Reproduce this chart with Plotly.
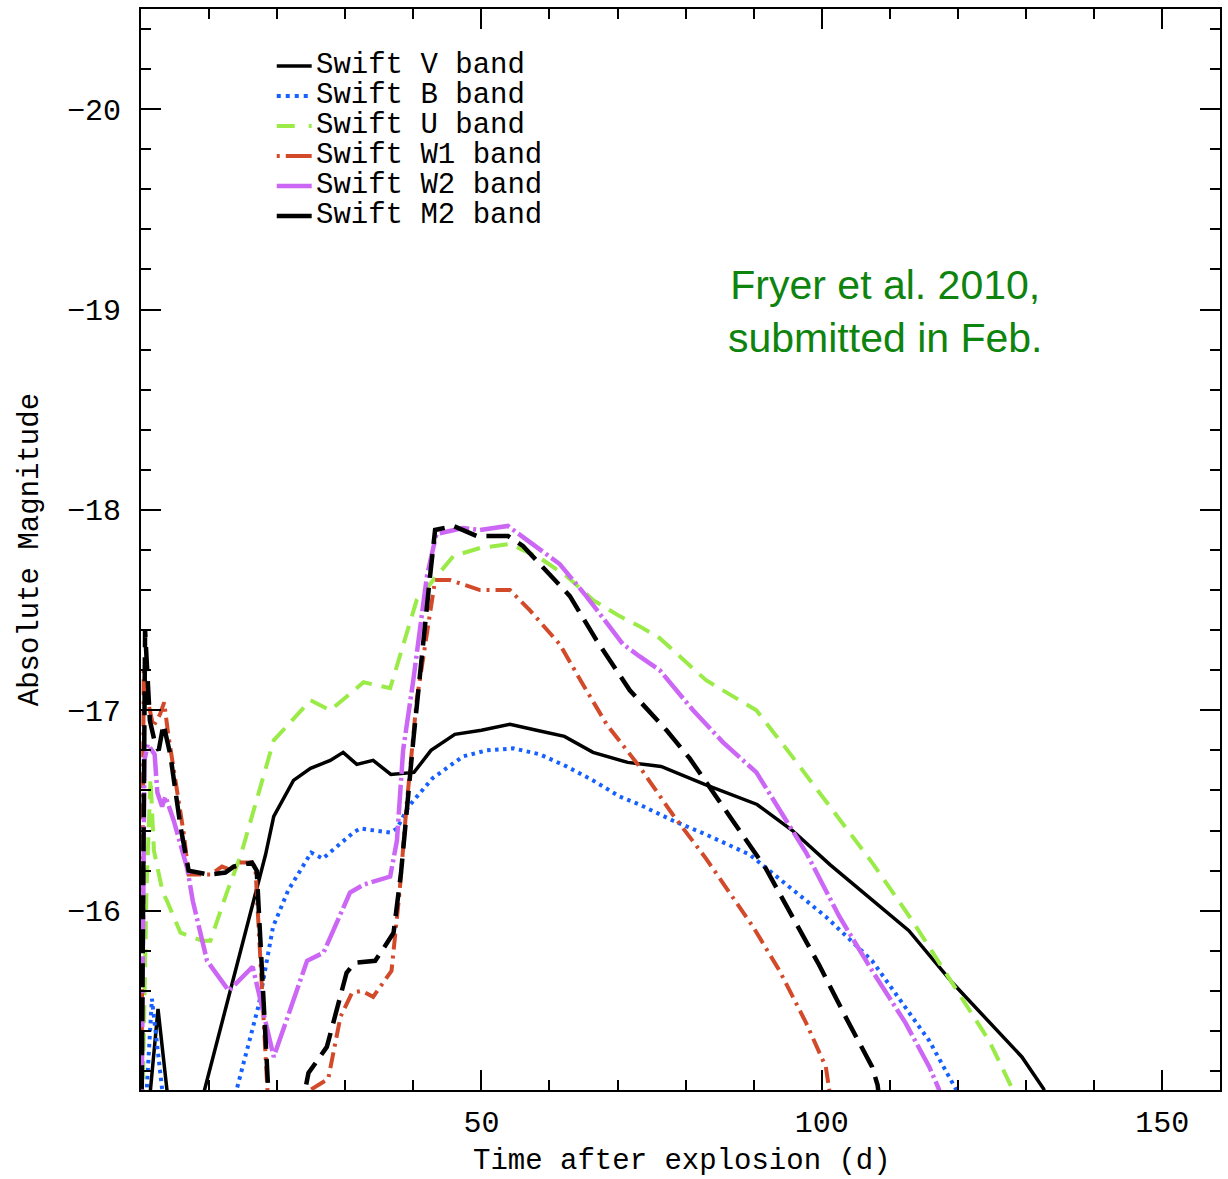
import plotly.graph_objects as go

# Model light curves: time after explosion (days) and absolute magnitude per Swift band
t_v = [0.0, 2.5, 4.8, 7.0, 18.3, 19.5, 22.4, 24.9, 27.8, 29.7, 31.7, 34.1, 36.7, 40.1,
       42.6, 46.1, 50.0, 54.2, 58.1, 62.2, 66.4, 71.5, 76.4, 82.8, 90.5, 95.7, 101.2,
       112.8, 119.2, 129.4, 132.6, 134.0]
mag_v = [-14.6, -15.51, -14.8, -14.8, -16.28, -16.47, -16.65, -16.71, -16.75, -16.79, -16.73,
         -16.75, -16.68, -16.69, -16.80, -16.88, -16.90, -16.93, -16.90, -16.87, -16.79, -16.74,
         -16.72, -16.63, -16.53, -16.40, -16.23, -15.90, -15.64, -15.27, -15.11, -14.9]

t_b = [0.0, 1.6, 3.3, 4.0, 11.7, 17.3, 19.4, 21.6, 25.0, 26.7, 31.2, 32.2, 36.6, 37.6,
       39.3, 42.8, 47.3, 50.8, 54.7, 58.6, 62.5, 66.4, 70.3, 73.2, 78.1, 83.0, 89.4,
       93.8, 100.6, 107.4, 112.3, 115.8, 119.7, 121.0]
mag_b = [-14.6, -15.56, -15.05, -14.8, -14.8, -15.53, -15.92, -16.10, -16.29, -16.26, -16.39,
         -16.41, -16.39, -16.41, -16.52, -16.66, -16.77, -16.80, -16.81, -16.78, -16.72, -16.65,
         -16.57, -16.53, -16.45, -16.38, -16.28, -16.16, -15.97, -15.75, -15.52, -15.35,
         -15.11, -14.95]

t_u = [0.0, 0.8, 1.4, 1.9, 3.2, 3.8, 5.8, 9.0, 10.2, 12.6, 14.6, 15.6, 19.5, 24.9, 27.8,
       32.7, 36.6, 40.5, 42.4, 45.9, 49.8, 54.2, 58.6, 62.5, 66.4, 70.3, 73.2, 76.2, 83.0,
       90.4, 95.2, 100.6, 107.4, 113.3, 119.7, 124.6, 128.0, 129.5]
mag_u = [-14.6, -16.1, -16.66, -16.30, -16.09, -16.05, -15.89, -15.85, -15.85, -16.09, -16.27,
         -16.39, -16.85, -17.05, -17.00, -17.14, -17.11, -17.55, -17.63, -17.77, -17.81, -17.83,
         -17.76, -17.67, -17.55, -17.47, -17.42, -17.36, -17.15, -17.00, -16.79, -16.55, -16.24,
         -15.95, -15.61, -15.35, -15.11, -14.9]

t_w1 = [0.0, 0.4, 1.0, 1.8, 2.8, 3.4, 4.0, 4.8, 6.3, 7.0, 10.2, 11.9, 13.4, 14.2, 16.1,
        16.8, 18.5, 18.9, 24.6, 27.5, 29.3, 31.0, 32.4, 34.1, 36.8, 38.0, 39.0, 40.0, 40.5,
        43.2, 45.4, 49.8, 54.2, 57.1, 61.5, 64.9, 68.4, 73.2, 78.1, 83.0, 89.9, 93.8, 97.7,
        100.6, 102.0]
mag_w1 = [-14.6, -17.2, -17.05, -16.92, -16.98, -17.04, -16.88, -16.70, -16.38, -16.18, -16.18,
          -16.22, -16.20, -16.24, -16.24, -16.22, -15.10, -14.9, -15.10, -15.16, -15.47, -15.59,
          -15.60, -15.57, -15.70, -16.10, -16.52, -16.85, -17.05, -17.65, -17.65, -17.60, -17.60,
          -17.50, -17.33, -17.13, -16.93, -16.72, -16.48, -16.26, -15.92, -15.70, -15.44,
          -15.22, -14.9]

t_w2 = [0.0, 0.5, 1.0, 2.0, 2.4, 3.1, 3.6, 4.8, 6.8, 7.6, 9.7, 12.9, 16.4, 19.5, 24.4,
        26.8, 30.7, 32.7, 36.6, 37.6, 38.5, 40.0, 42.0, 43.4, 47.3, 49.8, 53.9, 56.6, 61.5,
        65.4, 70.8, 73.2, 76.2, 81.1, 85.5, 90.4, 94.3, 97.7, 102.6, 107.4, 112.3, 115.8,
        117.2, 118.5]
mag_w2 = [-14.6, -16.75, -16.83, -16.78, -16.59, -16.52, -16.57, -16.45, -16.21, -16.05, -15.75,
          -15.60, -15.72, -15.27, -15.75, -15.79, -16.09, -16.13, -16.17, -16.35, -16.80, -17.15,
          -17.67, -17.88, -17.91, -17.90, -17.92, -17.85, -17.73, -17.57, -17.33, -17.27, -17.20,
          -17.00, -16.84, -16.69, -16.48, -16.29, -15.97, -15.70, -15.44, -15.22, -15.11, -14.9]

t_m2 = [0.0, 0.6, 1.3, 2.1, 2.6, 3.3, 4.3, 5.8, 7.0, 9.9, 12.4, 13.6, 16.3, 17.0, 18.7,
        19.0, 23.5, 24.6, 27.3, 28.8, 30.2, 31.4, 34.4, 35.6, 37.1, 38.2, 39.3, 40.0, 42.4,
        43.2, 45.9, 49.3, 53.9, 56.1, 58.6, 63.0, 66.9, 71.8, 77.2, 80.6, 86.9, 91.8, 95.2,
        99.6, 103.5, 107.4, 108.2, 109.0]
mag_m2 = [-14.6, -17.40, -16.95, -16.83, -16.80, -16.93, -16.78, -16.42, -16.20, -16.18, -16.19,
          -16.22, -16.24, -16.20, -15.10, -14.9, -15.0, -15.19, -15.32, -15.52, -15.69, -15.74,
          -15.75, -15.81, -15.89, -16.19, -16.60, -16.85, -17.65, -17.90, -17.92, -17.87, -17.87,
          -17.82, -17.73, -17.57, -17.35, -17.10, -16.90, -16.76, -16.45, -16.21, -16.00, -15.73,
          -15.47, -15.22, -15.13, -14.9]

band_names = ["Swift V band", "Swift B band", "Swift U band",
              "Swift W1 band", "Swift W2 band", "Swift M2 band"]

# line styles per band: colour, width, dash pattern
styles = [
    dict(color="#000000", width=3.5, dash="solid"),
    dict(color="#1660ff", width=4, dash="3.5px,4.5px"),
    dict(color="#9aeb48", width=4, dash="18px,10px"),
    dict(color="#d24a2a", width=4, dash="16px,6px,3px,6px"),
    dict(color="#cc66f5", width=4.5, dash="30px,4px,3px,4px"),
    dict(color="#000000", width=4.5, dash="24px,10px"),
]

series = [(t_v, mag_v), (t_b, mag_b), (t_u, mag_u),
          (t_w1, mag_w1), (t_w2, mag_w2), (t_m2, mag_m2)]

fig = go.Figure()
for name, (t, m), st in zip(band_names, series, styles):
    fig.add_trace(go.Scatter(x=t, y=m, mode="lines", name=name, line=st,
                             showlegend=False, hoverinfo="x+y+name"))

# page geometry (pixels)
W_PAGE, H_PAGE = 1228, 1179
L, R, T, B = 141, 6, 9, 89
PW, PH = W_PAGE - L - R, H_PAGE - T - B


def px_x(p):
    return (p - L) / PW


def px_y(p):
    return 1 - (p - T) / PH


mono = "Liberation Mono, Courier New, monospace"
axis_font = dict(family=mono, size=29, color="black")
tick_font = dict(family=mono, size=30, color="black")

# legend drawn as line samples with labels
legend_rows = [66, 96, 126, 156, 186, 216]
legend_dash = ["solid", "4px,5px", "18px,14px", "3px,6px,26px,4px", "solid", "solid"]
shapes = []
annotations = []
for name, st, row, dsh in zip(band_names, styles, legend_rows, legend_dash):
    shapes.append(dict(type="line", xref="paper", yref="paper",
                       x0=px_x(277), x1=px_x(312), y0=px_y(row), y1=px_y(row),
                       line=dict(color=st["color"], width=st["width"], dash=dsh)))
    annotations.append(dict(xref="paper", yref="paper", x=px_x(314), y=px_y(row - 1),
                            text=name, showarrow=False, height=28, valign="middle",
                            xanchor="left", yanchor="middle", font=axis_font))

annotations.append(dict(xref="paper", yref="paper", x=px_x(887), y=px_y(312),
                        text="Fryer et al. 2010,<br>submitted in Feb.", showarrow=False,
                        xanchor="center", yanchor="middle", align="center",
                        font=dict(family="Liberation Sans, Arial, sans-serif", size=41,
                                  color="#0e840e")))
annotations.append(dict(xref="paper", yref="paper", x=px_x(683), y=px_y(1161),
                        text="Time after explosion (d)", showarrow=False,
                        xanchor="center", yanchor="middle", font=axis_font))
annotations.append(dict(xref="paper", yref="paper", x=px_x(30), y=px_y(550),
                        text="Absolute Magnitude", showarrow=False, textangle=-90,
                        xanchor="center", yanchor="middle", font=axis_font))

fig.update_layout(
    width=W_PAGE, height=H_PAGE,
    margin=dict(l=L, r=R, t=T, b=B, pad=0),
    paper_bgcolor="white", plot_bgcolor="white",
    shapes=shapes, annotations=annotations,
    showlegend=False,
)

fig.update_xaxes(
    range=[0, 158.5], showgrid=False, zeroline=False,
    showline=True, linecolor="black", linewidth=2, mirror="ticks",
    ticks="inside", ticklen=20, tickwidth=2, tickcolor="black",
    tickmode="array", tickvals=[50, 100, 150], ticktext=["50", "100", "150"],
    tickfont=tick_font, ticklabelstandoff=4,
    minor=dict(ticks="inside", ticklen=10, tickwidth=2, tickcolor="black",
               tickmode="linear", tick0=0, dtick=10, showgrid=False),
)
fig.update_yaxes(
    range=[-15.105, -20.5], showgrid=False, zeroline=False,
    showline=True, linecolor="black", linewidth=2, mirror="ticks",
    ticks="inside", ticklen=20, tickwidth=2, tickcolor="black",
    tickmode="array", tickvals=[-20, -19, -18, -17, -16],
    ticktext=["\u221220", "\u221219", "\u221218", "\u221217", "\u221216"],
    tickfont=tick_font, ticklabelstandoff=12,
    minor=dict(ticks="inside", ticklen=10, tickwidth=2, tickcolor="black",
               tickmode="linear", tick0=-20, dtick=0.2, showgrid=False),
)

fig.write_html("out.html")
